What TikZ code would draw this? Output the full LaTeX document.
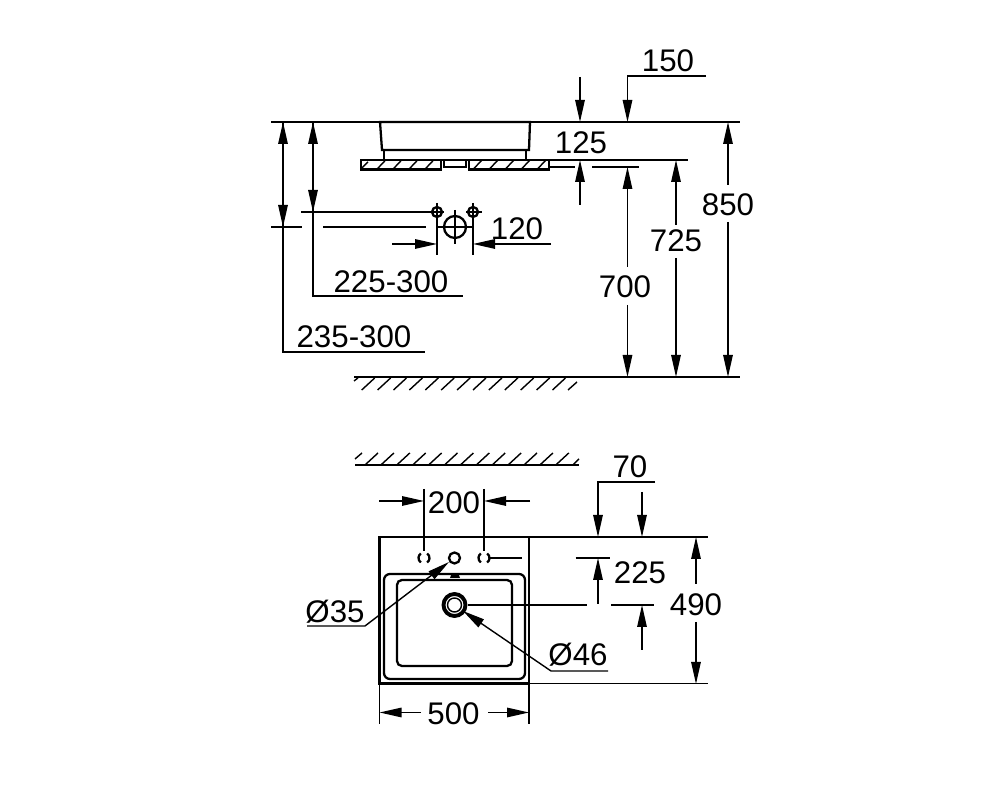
\documentclass[tikz,border=0pt]{standalone}
\usepackage{fontspec}
\setmainfont{Liberation Sans}
\usetikzlibrary{arrows.meta}

\begin{document}
\begin{tikzpicture}[x=0.1mm,y=-0.1mm]
            \tikzset{dimline/.style = {line width=0.4pt}}
            \tikzset{dimedge/.style = {line width=0.4pt,-{Triangle[length=2.2mm,width=0.95mm]}}}
            \tikzset{outline/.style = {line width=0.65pt}}
            \tikzset{hatchline/.style = {line width=0.4pt}}
            \tikzset{dimlabel/.style = {inner sep=0pt,yshift=-0.1mm,font=\fontsize{8.9}{10}\selectfont}}
            \useasboundingbox (0,0) rectangle (1000,800);

            % side view, basin and counter
            \draw[dimline] (271,122) -- (740,122);
            \draw[outline] (380,122) -- (530,122) -- (529,150) -- (382,150) -- cycle;
            \draw[outline] (384,150) -- (384,160) (526,150) -- (526,160);
            \draw[outline] (361,160) rectangle (441,169.5);
            \draw[outline] (469,160) rectangle (549,169.5);
            \draw[outline] (384,160) -- (526,160);
            \draw[dimline] (444,160) -- (444,167) -- (466,167) -- (466,160);
            \draw[hatchline] (362,168) -- (368,162);
            \foreach \i in {0,...,3}
                \draw[hatchline] (376.7+16*\i,169.5) -- (385.7+16*\i,160);
            \foreach \i in {0,...,4}
                \draw[hatchline] (473+16*\i,169.5) -- (482+16*\i,160);
            \draw[dimline] (549,160) -- (688,160);
            \draw[dimline] (549,167) -- (575,167) (592,167) -- (639,167);

            % tap holes
            \draw[outline] (437,212) circle (5);
            \draw[outline] (473,212) circle (5);
            \draw[outline] (455,227) circle (11);
            \draw[dimline] (301,212) -- (444,212) (466,212) -- (482,212);
            \draw[dimline] (437,203) -- (437,255) (473,203) -- (473,255);
            \draw[dimline] (271,227) -- (302,227) (323,227) -- (426,227) (437,227) -- (472,227);
            \draw[dimline] (455,210) -- (455,244);
            \draw[dimedge] (392,244) -- (437,244);
            \draw[dimedge] (551,244) -- (473,244);
            \node[dimlabel] (label120) at (517,228) {120};

            % left dimensions
            \draw[dimedge] (283,227) -- (283,122);
            \draw[dimedge] (283,122) -- (283,227);
            \draw[dimline] (283,227) -- (283,352) -- (425,352);
            \node[dimlabel] (label235) at (354,336) {235-300};
            \draw[dimedge] (313,212) -- (313,122);
            \draw[dimedge] (313,122) -- (313,212);
            \draw[dimline] (313,212) -- (313,296) -- (463,296);
            \node[dimlabel] (label225top) at (391,281) {225-300};

            % right dimensions
            \draw[dimedge] (580,77) -- (580,122);
            \draw[dimedge] (580,205) -- (580,160);
            \node[dimlabel] (label125) at (581,142) {125};
            \draw[dimedge] (706,76) -- (627.5,76) -- (627.5,122);
            \node[dimlabel] (label150) at (668,60) {150};
            \node[dimlabel] (label850) at (728,204) {850};
            \draw[dimedge] (728,185) -- (728,122);
            \draw[dimedge] (728,222) -- (728,377);
            \node[dimlabel] (label725) at (676,240) {725};
            \draw[dimedge] (676,225) -- (676,160);
            \draw[dimedge] (676,258) -- (676,377);
            \node[dimlabel] (label700) at (625,286) {700};
            \draw[dimedge] (627.5,267) -- (627.5,167);
            \draw[dimedge] (627.5,305) -- (627.5,377);

            % floor
            \draw[line width=0.75pt] (354,377) -- (577,377);
            \draw[dimline] (577,377) -- (740,377);
            \foreach \i in {0,...,12}
                \draw[hatchline] (361.7+15.9*\i,390) -- (374.7+15.9*\i,378);
            \draw[hatchline] (354,381) -- (358,378);
            \draw[hatchline] (568,390) -- (577,382);

            % wall
            \draw[outline] (355,465) -- (579,465);
            \foreach \i in {0,...,12}
                \draw[hatchline] (365+15.9*\i,465) -- (378+15.9*\i,453);
            \draw[hatchline] (355,459) -- (362,453);
            \draw[hatchline] (573,465) -- (579,459);

            % plan view
            \draw[outline] (379.5,537) rectangle (529,683.5);
            \draw[outline,rounded corners=1.7pt] (384,574) rectangle (525,679);
            \draw[outline,rounded corners=1.4pt] (397,580) rectangle (512,666);
            \fill (450,578) -- (451.5,574) -- (458.5,574) -- (460,578) -- cycle;
            \draw[outline] (454.5,558) circle (5.5);
            \draw[line width=1.1pt] (454.5,605) circle (11);
            \draw[dimline] (454.5,605) circle (7);
            \foreach \x in {424,484} {
                \draw[outline] (\x,558) ++(125:5.5) arc (125:235:5.5);
                \draw[outline] (\x,558) ++(-55:5.5) arc (-55:55:5.5);
            }
            \draw[dimline] (379.5,537) -- (708,537) (529,683.5) -- (708,683.5);
            \draw[dimline] (489,558) -- (522,558);

            % plan dimensions
            \draw[dimline] (424,489) -- (424,551) (484,489) -- (484,551);
            \draw[dimedge] (379,501) -- (424,501);
            \draw[dimedge] (530,501) -- (484,501);
            \node[dimlabel] (label200) at (454,502) {200};
            \draw[dimline] (379.5,683.5) -- (379.5,724) (529,683.5) -- (529,724);
            \draw[dimedge] (421,712.5) -- (379.5,712.5);
            \draw[dimedge] (488,712.5) -- (529,712.5);
            \node[dimlabel] (label500) at (453.5,713) {500};
            \draw[dimedge] (655,482) -- (598,482) -- (598,537);
            \draw[dimedge] (642,492) -- (642,537);
            \node[dimlabel] (label70) at (630,466) {70};
            \draw[dimline] (575.5,558) -- (610,558);
            \draw[dimedge] (598,604) -- (598,558);
            \node[dimlabel] (label225) at (640,572) {225};
            \draw[dimline] (468,605) -- (587,605) (611,605) -- (654,605);
            \draw[dimedge] (642,650) -- (642,605);
            \node[dimlabel] (label490) at (696,604) {490};
            \draw[dimedge] (696,584) -- (696,537);
            \draw[dimedge] (696,622) -- (696,684);

            % diameters
            \draw[dimedge] (307,626) -- (365,626) -- (449,562);
            \node[dimlabel] (label35) at (335,611) {Ø35};
            \draw[dimedge] (608,671) -- (551,671) -- (463,611);
            \node[dimlabel] (label46) at (578,654) {Ø46};
\end{tikzpicture}
\end{document}
